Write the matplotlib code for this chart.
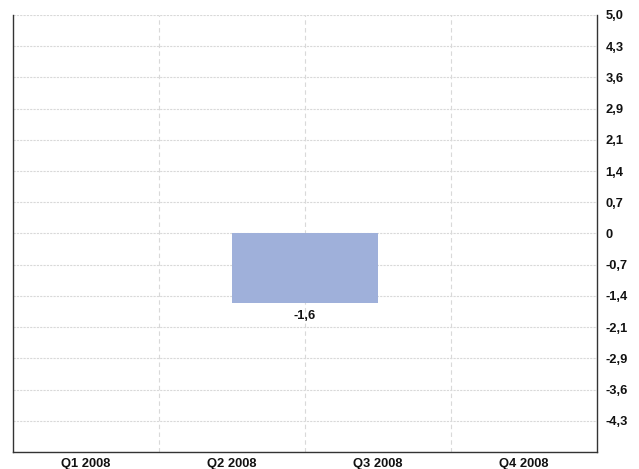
import matplotlib
matplotlib.use("Agg")
import matplotlib.pyplot as plt
import matplotlib.ticker as ticker
import numpy as np

# data
quarters = ["Q1 2008", "Q2 2008", "Q3 2008", "Q4 2008"]
values = [np.nan, -1.6, np.nan, np.nan]
y_ticks = [-5.0 + i * 5.0 / 7 for i in range(15)]
y_min, y_max = -5.0, 5.0

plt.rcParams['font.family'] = ['Liberation Sans', 'DejaVu Sans']
fs = 9.3

fig = plt.figure(figsize=(6.39, 4.69), dpi=100)
ax = fig.add_axes([13 / 639, 17 / 469, 584 / 639, 437 / 469])

xpos = np.arange(len(quarters)) + 0.5
for x, v in zip(xpos, values):
    if np.isnan(v):
        continue
    ax.bar(x, v, width=1.0, align='edge', color='#9fb0da', zorder=3)
    ax.text(x + 0.5, v - 0.15, "{:.1f}".format(v).replace('.', ','),
            ha='center', va='top', fontsize=fs, fontweight='bold',
            color='#111111', zorder=4)

ax.set_xlim(0, len(quarters))
ax.set_ylim(y_min, y_max)

ax.set_xticks(xpos)
ax.set_xticklabels(quarters, fontsize=fs, fontweight='bold', color='#111111')
ax.set_xticks(np.arange(1, len(quarters)), minor=True)

ax.yaxis.tick_right()
ax.set_yticks(y_ticks)
labels = ["{:.1f}".format(t).replace('.', ',') for t in y_ticks]
labels = ['0' if abs(t) < 1e-9 else l for t, l in zip(y_ticks, labels)]
labels[0] = ''
ax.set_yticklabels(labels, fontsize=fs, fontweight='bold', color='#111111')
for lab in ax.get_yticklabels():
    lab.set_horizontalalignment('left')

ax.tick_params(axis='both', which='both', length=0)
ax.tick_params(axis='y', pad=6)
ax.tick_params(axis='x', pad=4)

ax.grid(axis='y', which='major', color='#d9d9d9', linestyle=(0, (2, 1)), linewidth=0.8, zorder=0)
ax.grid(axis='x', which='minor', color='#d9d9d9', linestyle=(0, (4, 3)), linewidth=0.8, zorder=0)

ax.spines['top'].set_visible(False)
for s in ['left', 'right', 'bottom']:
    ax.spines[s].set_color('#333333')
    ax.spines[s].set_linewidth(1.0)

fig.savefig("out.png", dpi=100)
